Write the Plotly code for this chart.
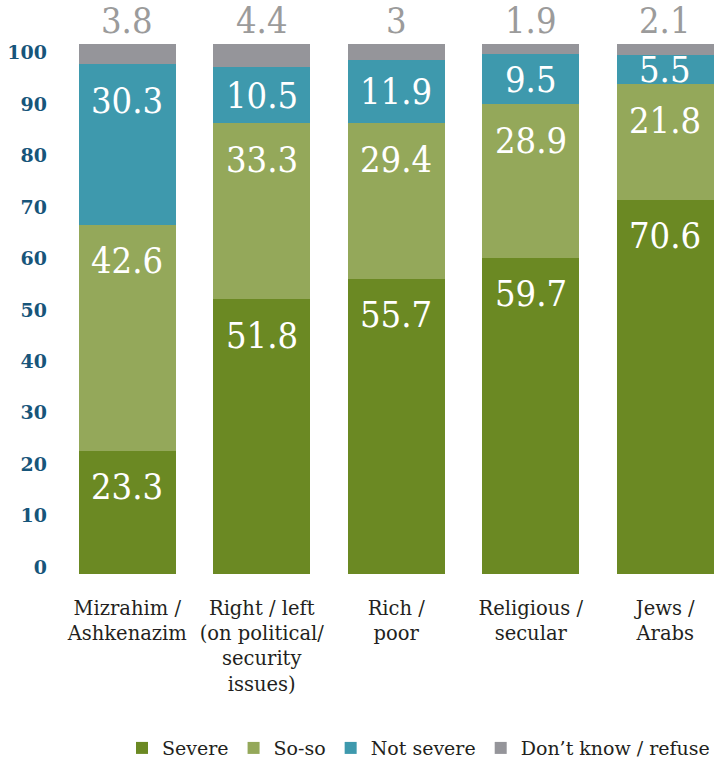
import plotly.graph_objects as go

# Categories (x axis) and the four response shares for each pairing
categories = [
    "Mizrahim /<br>Ashkenazim",
    "Right / left<br>(on political/<br>security<br>issues)",
    "Rich /<br>poor",
    "Religious /<br>secular",
    "Jews /<br>Arabs",
]
severe = [23.3, 51.8, 55.7, 59.7, 70.6]
so_so = [42.6, 33.3, 29.4, 28.9, 21.8]
not_severe = [30.3, 10.5, 11.9, 9.5, 5.5]
dont_know = [3.8, 4.4, 3, 1.9, 2.1]

y_ticks = [0, 10, 20, 30, 40, 50, 60, 70, 80, 90, 100]

series = [
    ("Severe", severe, "#6b8923"),
    ("So-so", so_so, "#94a85a"),
    ("Not severe", not_severe, "#3e99ad"),
    ("Don’t know / refuse", dont_know, "#95959a"),
]

SERIF = "DejaVu Serif"
SERIF_NARROW = "DejaVu Serif Condensed, DejaVu Serif"
LABEL_SIZE = 36
LABEL_INSET = 6.8          # max distance (data units) of a label centre below its segment top
TICK_OFFSET, TICK_SCALE = 1.32, 0.9704   # placement of the y tick labels along the bar axis

x_idx = list(range(len(categories)))

fig = go.Figure()
for name, vals, color in series:
    fig.add_trace(go.Bar(
        x=x_idx, y=vals, name=name,
        marker=dict(color=color, line=dict(width=0)),
        hoverinfo="skip",
    ))

annotations = []
base = [0.0] * len(categories)
for name, vals, color in series:
    for i, v in enumerate(vals):
        top = base[i] + v
        if name.startswith("Don"):
            # value printed above the stack in grey
            annotations.append(dict(
                x=i, y=top, xref="x", yref="y", text=f"{v:g}",
                showarrow=False, yanchor="middle", yshift=24,
                font=dict(family=SERIF_NARROW, size=LABEL_SIZE, color="#9b9b9b"),
            ))
        else:
            annotations.append(dict(
                x=i, y=top - min(v / 2, LABEL_INSET), xref="x", yref="y",
                text=f"{v:g}", showarrow=False, yanchor="middle",
                font=dict(family=SERIF_NARROW, size=LABEL_SIZE, color="white"),
            ))
        base[i] = top

fig.update_layout(
    width=715, height=761,
    margin=dict(l=60, r=0, t=44, b=187),
    barmode="stack",
    bargap=0.279,
    plot_bgcolor="white",
    paper_bgcolor="white",
    annotations=annotations,
    font=dict(family=SERIF),
    showlegend=True,
    legend=dict(
        orientation="h", x=1, xanchor="right",
        yref="container", y=0.017, yanchor="middle",
        font=dict(family=SERIF, size=19, color="#231f20"),
        traceorder="normal", itemclick=False,
    ),
    xaxis=dict(
        range=[-0.5, 4.37],
        tickmode="array", tickvals=x_idx, ticktext=categories,
        tickfont=dict(family=SERIF, size=19.5, color="#231f20"),
        showgrid=False, zeroline=False, showline=False, ticks="",
        ticklabelstandoff=20,
    ),
    yaxis=dict(
        range=[0, 100],
        tickmode="array",
        tickvals=[TICK_OFFSET + t * TICK_SCALE for t in y_ticks],
        ticktext=[f"<b>{t}</b>" for t in y_ticks],
        tickfont=dict(family=SERIF, size=19, color="#17557a"),
        showgrid=False, zeroline=False, showline=False, ticks="",
        ticklabelstandoff=12,
    ),
)

fig.write_html("out.html")
